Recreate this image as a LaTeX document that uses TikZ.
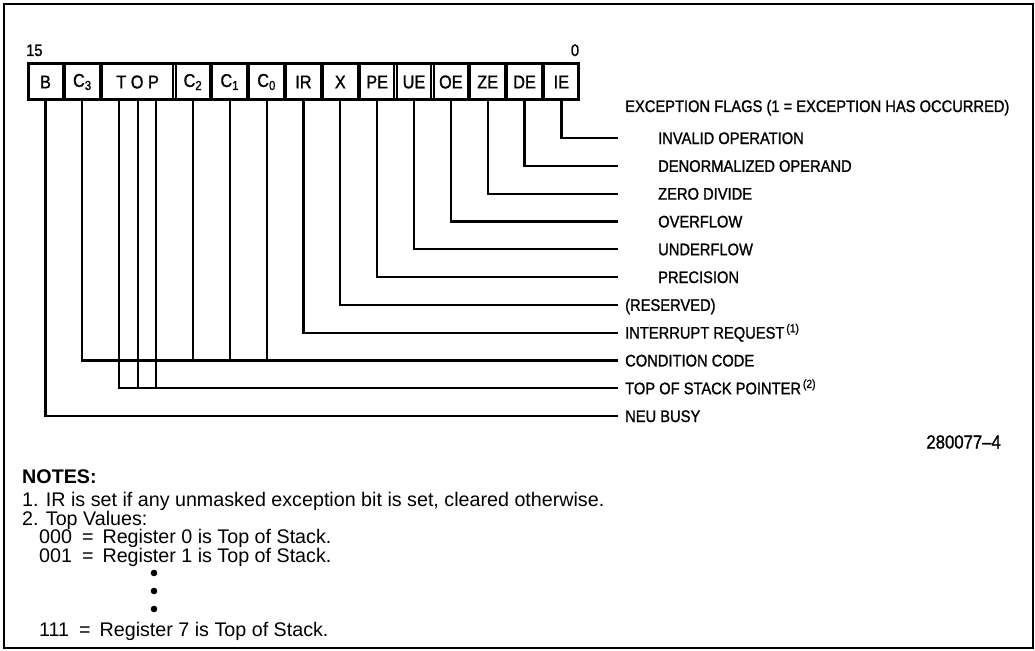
\documentclass[tikz,border=0pt]{standalone}
\usepackage{fontspec}
\setmainfont{Liberation Sans}
\newfontfamily\lblfont[FakeStretch=0.88,FakeBold=1.2]{Liberation Sans}
\usetikzlibrary{positioning}
\setlength{\lineskiplimit}{-20pt}

\begin{document}
\begin{tikzpicture}[x=1pt,y=-1pt,node distance=2.25pt,
 cell/.style={draw,line width=2pt,outer sep=0pt,inner sep=0pt,minimum width=34.6pt,minimum height=36pt,font=\lblfont\fontsize{18.5}{20}\selectfont},
 lbl/.style={anchor=west,inner sep=0pt,text height=12pt,text depth=0pt,font=\lblfont\fontsize{16.7}{18}\selectfont},
 wire/.style={line width=2.2pt},
 note/.style={anchor=north west,align=left,inner sep=0pt,font=\fontsize{19.7}{18.5}\selectfont}]
\useasboundingbox (0,0) rectangle (1035,650);
\draw[line width=1.5pt] (4,4) rectangle (1033,648);

% register cells, bit 15 on the left
\node[cell] (b) at (45.5,82) {B};
\node[cell,right=of b] (cthree) {C\textsubscript{3}};
\node[cell,right=of cthree,minimum width=71.45pt] (top) {T O P};
\node[cell,right=of top] (ctwo) {C\textsubscript{2}};
\node[cell,right=of ctwo] (cone) {C\textsubscript{1}};
\node[cell,right=of cone] (czero) {C\textsubscript{0}};
\node[cell,right=of czero] (ir) {IR};
\node[cell,right=of ir] (x) {X};
\node[cell,right=of x] (pe) {PE};
\node[cell,right=of pe] (ue) {UE};
\node[cell,right=of ue] (oe) {OE};
\node[cell,right=of oe] (ze) {ZE};
\node[cell,right=of ze] (de) {DE};
\node[cell,right=of de] (ie) {IE};
\draw[line width=3pt] (b.north west) rectangle (ie.south east);
\node[lbl] (msb) at (26,50) {15};
\node[lbl,anchor=center] (lsb) at (575,50) {0};

% field names
\node[lbl] (hdr) at (625,106) {EXCEPTION FLAGS (1 = EXCEPTION HAS OCCURRED)};
\node[lbl] (lie) at (658,138) {INVALID OPERATION};
\node[lbl] (lde) at (658,165.8) {DENORMALIZED OPERAND};
\node[lbl] (lze) at (658,193.6) {ZERO DIVIDE};
\node[lbl] (loe) at (658,221.4) {OVERFLOW};
\node[lbl] (lue) at (658,249.2) {UNDERFLOW};
\node[lbl] (lpe) at (658,277) {PRECISION};
\node[lbl] (lx) at (625,304.8) {(RESERVED)};
\node[lbl] (lir) at (625,332.6) {INTERRUPT REQUEST\textsuperscript{\,(1)}};
\node[lbl] (lcc) at (625,360.4) {CONDITION CODE};
\node[lbl] (ltop) at (625,388.2) {TOP OF STACK POINTER\textsuperscript{\,(2)}};
\node[lbl] (lb) at (625,416) {NEU BUSY};

% wires
\draw[wire,shorten >=40pt] (ie.south) |- (lie.west);
\draw[wire,shorten >=40pt] (de.south) |- (lde.west);
\draw[wire,shorten >=40pt] (ze.south) |- (lze.west);
\draw[wire,shorten >=40pt] (oe.south) |- (loe.west);
\draw[wire,shorten >=40pt] (ue.south) |- (lue.west);
\draw[wire,shorten >=40pt] (pe.south) |- (lpe.west);
\draw[wire,shorten >=7pt] (x.south) |- (lx.west);
\draw[wire,shorten >=7pt] (ir.south) |- (lir.west);
\draw[wire,shorten >=7pt] (cthree.south) |- (lcc.west);
\draw[wire] (ctwo.south) -- (ctwo.south |- lcc.west);
\draw[wire] (cone.south) -- (cone.south |- lcc.west);
\draw[wire] (czero.south) -- (czero.south |- lcc.west);
\draw[wire,shorten >=7pt] ([xshift=-18.4pt]top.south) |- (ltop.west);
\draw[wire] (top.south) -- (top.south |- ltop.west);
\draw[wire] ([xshift=18.4pt]top.south) -- ([xshift=18.4pt]top.south |- ltop.west);
\draw[wire,shorten >=7pt] (b.south) |- (lb.west);

\node[anchor=east,inner sep=0pt,font=\lblfont\fontsize{19}{20}\selectfont] (fig) at (1001,442) {280077\textendash 4};

% notes
\node[note] (notes) at (22,470) {\textbf{NOTES:}\\[4.5pt]
1. IR is set if any unmasked exception bit is set, cleared otherwise.\\
2. Top Values:\\
\hspace*{17pt}000\hspace{10pt}=\hspace{9pt}Register 0 is Top of Stack.\\
\hspace*{17pt}001\hspace{10pt}=\hspace{9pt}Register 1 is Top of Stack.\\[55.5pt]
\hspace*{17pt}111\hspace{10pt}=\hspace{9pt}Register 7 is Top of Stack.};
\fill (154,573) circle (3.3pt) (154,591) circle (3.3pt) (154,609) circle (3.3pt);
\end{tikzpicture}
\end{document}
